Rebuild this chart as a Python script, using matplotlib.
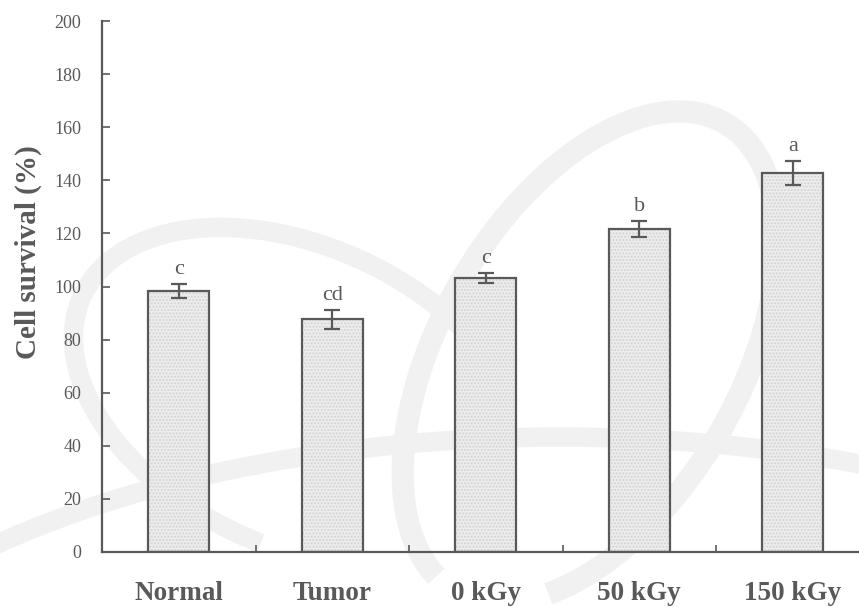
import matplotlib.pyplot as plt
import numpy as np
from matplotlib.patches import Arc

groups = ["Normal", "Tumor", "0 kGy", "50 kGy", "150 kGy"]
survival = [98.3, 87.6, 103.3, 121.8, 142.9]
sem = [2.7, 3.6, 1.9, 3.0, 4.5]
letters = ["c", "cd", "c", "b", "a"]

plt.rcParams['font.family'] = ['Liberation Serif', 'DejaVu Serif']
gray = '#595959'
wm = '#f1f1f1'

fig = plt.figure(figsize=(8.59, 6.07), dpi=100)

# faint watermark (atom-like logo) behind the chart, pixel coords
bg = fig.add_axes([0, 0, 1, 1], zorder=0)
bg.set_xlim(0, 859)
bg.set_ylim(0, 607)
bg.axis('off')
bg.add_patch(Arc((560, -200), 1600, 740, theta1=0, theta2=180, lw=14, color=wm))
bg.add_patch(Arc((590, 250), 540, 300, angle=60, theta1=-160, theta2=175, lw=16, color=wm))
bg.add_patch(Arc((300, 210), 480, 300, angle=-25, theta1=40, theta2=280, lw=14, color=wm))

ax = fig.add_axes([102 / 859, 55 / 607, 767.5 / 859, 531 / 607], zorder=1)
ax.patch.set_alpha(0)
x = np.arange(len(groups))

ax.bar(x, survival, width=0.4, color='#ededed', edgecolor='#d2d2d2', hatch='.....', linewidth=0, zorder=2)
ax.bar(x, survival, width=0.4, fill=False, edgecolor=gray, linewidth=1.6, zorder=3)
ax.errorbar(x, survival, yerr=sem, fmt='none', ecolor=gray, elinewidth=1.6,
            capsize=5.6, capthick=1.6, zorder=4)

for xi, v, e, lab in zip(x, survival, sem, letters):
    ax.text(xi, v + e + 1.8, lab, ha='center', va='bottom', fontsize=16, color=gray)

ax.set_xlim(-0.5, 4.5)
ax.set_ylim(0, 200)
ax.set_yticks(np.arange(0, 201, 20))
ax.set_xticks(x)
ax.set_xticklabels(groups, fontsize=19.5, fontweight='bold', color=gray)
ax.set_xticks(x[:-1] + 0.5, minor=True)
ax.tick_params(axis='x', which='major', length=0, pad=21)
ax.tick_params(axis='x', which='minor', direction='in', length=5, width=1.2, color=gray)
ax.tick_params(axis='y', direction='in', length=6, width=1.2, color=gray,
               labelsize=13, labelcolor=gray, pad=15)

fig.text(28 / 859, 1 - 252 / 607, 'Cell survival (%)', rotation=90, ha='center', va='center',
         fontsize=21, fontweight='bold', color=gray)

for s in ['top', 'right']:
    ax.spines[s].set_visible(False)
for s in ['left', 'bottom']:
    ax.spines[s].set_color(gray)
    ax.spines[s].set_linewidth(1.6)

fig.savefig('out.png', dpi=100)
